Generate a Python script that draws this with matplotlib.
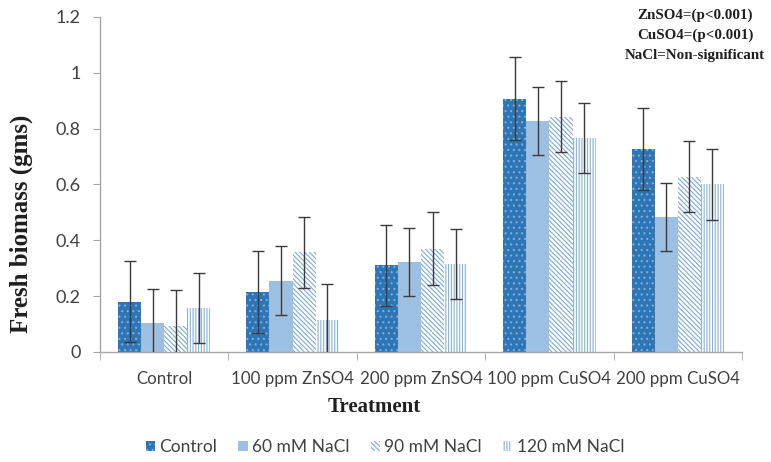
import matplotlib
matplotlib.use("Agg")
import matplotlib.pyplot as plt
import numpy as np

categories = ["Control", "100 ppm ZnSO4", "200 ppm ZnSO4", "100 ppm CuSO4", "200 ppm CuSO4"]
series_names = ["Control", "60 mM NaCl", "90 mM NaCl", "120 mM NaCl"]
control = [0.18, 0.215, 0.31, 0.908, 0.728]
nacl60 = [0.104, 0.256, 0.322, 0.827, 0.483]
nacl90 = [0.093, 0.357, 0.37, 0.843, 0.628]
nacl120 = [0.157, 0.115, 0.315, 0.767, 0.600]
err_control = [0.145, 0.147, 0.145, 0.147, 0.147]
err_60 = [0.12, 0.125, 0.123, 0.123, 0.122]
err_90 = [0.13, 0.128, 0.13, 0.127, 0.128]
err_120 = [0.125, 0.13, 0.125, 0.126, 0.126]
yticks = [0, 0.2, 0.4, 0.6, 0.8, 1, 1.2]
ytick_labels = ["0", "0.2", "0.4", "0.6", "0.8", "1", "1.2"]

values = [control, nacl60, nacl90, nacl120]
errors = [err_control, err_60, err_90, err_120]
styles = [
    dict(facecolor="#2E75B6", edgecolor="#7DAEDC", hatch="..."),
    dict(facecolor="#9DC0E2", edgecolor="#9DC0E2", hatch=None),
    dict(facecolor="white", edgecolor="#7FA9D4", hatch="\\" * 7),
    dict(facecolor="white", edgecolor="#86B0DA", hatch="|" * 6),
]

plt.rcParams["hatch.linewidth"] = 0.8
fig = plt.figure(figsize=(7.71, 4.62), dpi=100)
ax = fig.add_axes([100 / 771, 1 - 352 / 462, 642 / 771, 335 / 462])

x = np.arange(len(categories))
w = 0.18
handles = []
for i, (vals, errs, st) in enumerate(zip(values, errors, styles)):
    pos = x + (i - 1.5) * w
    b = ax.bar(pos, vals, width=w, linewidth=0, label=series_names[i], **st)
    ax.errorbar(pos, vals, yerr=errs, fmt="none", ecolor="#3A3A3A",
                elinewidth=1.0, capsize=4, capthick=1.0, zorder=3)
    handles.append(b)

ax.set_xlim(-0.5, 4.5)
ax.set_ylim(0, 1.2)
ax.set_yticks(yticks)
ax.set_yticklabels(ytick_labels)
ax.set_xticks(x)
ax.set_xticklabels(categories)
ax.set_xticks(np.arange(-0.5, 5, 1), minor=True)
ax.tick_params(axis="x", which="major", length=0, pad=14, labelsize=12.2,
               labelcolor="#404040")
ax.tick_params(axis="x", which="minor", length=6, color="#A6A6A6", direction="out")
ax.tick_params(axis="y", length=5, color="#A6A6A6", pad=9, labelsize=13,
               labelcolor="#404040")
for lab in ax.get_xticklabels() + ax.get_yticklabels():
    lab.set_family("Lato")
for s in ["top", "right"]:
    ax.spines[s].set_visible(False)
for s in ["left", "bottom"]:
    ax.spines[s].set_color("#A6A6A6")
    ax.spines[s].set_linewidth(1.0)

fig.text(21 / 771, 1 - 224 / 462, "Fresh biomass (gms)", rotation=90,
         ha="center", va="center", family="Liberation Serif", weight="bold",
         fontsize=18, color="#1F1F1F")
fig.text(374 / 771, 1 - 407 / 462, "Treatment", ha="center", va="center",
         family="Liberation Serif", weight="bold", fontsize=15, color="#1F1F1F")

ann = ["ZnSO4=(p<0.001)", "CuSO4=(p<0.001)", "NaCl=Non-significant"]
for k, t in enumerate(ann):
    fig.text(695 / 771, 1 - (15 + 20 * k) / 462, t, ha="center", va="center",
             family="Liberation Serif", weight="bold", fontsize=10.8, color="#1F1F1F")

leg = fig.legend(handles=handles, labels=series_names, loc="center",
                 bbox_to_anchor=(385 / 771, 1 - 447 / 462), ncol=4, frameon=False,
                 handlelength=0.55, handleheight=0.55, handletextpad=0.25,
                 columnspacing=1.2, prop={"family": "Lato", "size": 12.5})
for t in leg.get_texts():
    t.set_color("#404040")

fig.savefig("out.png", dpi=100)
